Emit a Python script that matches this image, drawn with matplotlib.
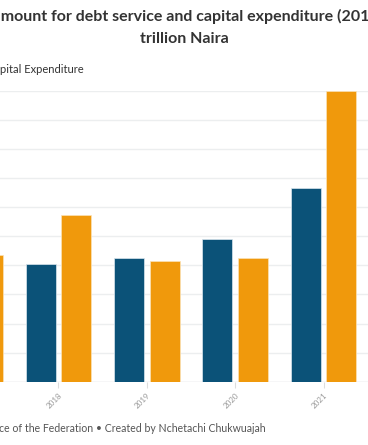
import matplotlib
matplotlib.use("Agg")
import matplotlib.pyplot as plt
import numpy as np

years = ["2017", "2018", "2019", "2020", "2021"]
debt_service = [1.95, 2.02, 2.13, 2.45, 3.32]
capital_exp = [2.17, 2.87, 2.08, 2.13, 4.99]
yticks = [0, 0.5, 1.0, 1.5, 2.0, 2.5, 3.0, 3.5, 4.0, 4.5, 5.0]

title1 = "Total amount for debt service and capital expenditure (2017-2021) in"
title2 = "trillion Naira"
legend_labels = ["Debt Service", "Capital Expenditure"]
footer = "Source: Budget Office of the Federation \u2022 Created by Nchetachi Chukwuajah"

DEBT_C = "#0b5278"
CAP_C = "#f0990c"

W, H = 368, 445
fig = plt.figure(figsize=(W / 100, H / 100), dpi=100)
FONT = ["Lato", "DejaVu Sans"]

sp = 88.4
x_left = (0 - 58.3) / sp + 1
x_right = (W - 58.3) / sp + 1
base_px, top_px = 381.7, 90.7
ax = fig.add_axes([0, (H - base_px) / H, 1, (base_px - top_px) / H])

x = np.arange(len(years))
bw = 30 / sp
off = 17.8 / sp
ax.bar(x - off, debt_service, width=bw, color=DEBT_C, edgecolor="#dbe6ee",
       linewidth=0.5, zorder=3)
ax.bar(x + off, capital_exp, width=bw, color=CAP_C, edgecolor="#fbe3b8",
       linewidth=0.5, zorder=3)

ax.set_yticks(yticks)
ax.yaxis.grid(True, color="#eceeef", linewidth=1.0, zorder=0)
ax.tick_params(axis="y", length=0, labelleft=False)
for s in ax.spines.values():
    s.set_visible(False)
ax.set_xticks(x)
ax.set_xticklabels(years, rotation=45, ha="right", rotation_mode="anchor",
                   fontsize=5.8, color="#999999", family=FONT)
ax.tick_params(axis="x", length=4, color="#dddddd", width=0.8, pad=3)
ax.axhline(0, color="#e4e6e8", linewidth=1.0, zorder=2)
ax.set_axisbelow(True)
ax.set_xlim(x_left, x_right)
ax.set_ylim(0, 5.0)

renderer = fig.canvas.get_renderer()

def prefix_width(txt, **kw):
    t = fig.text(0, 0, txt, **kw)
    w = t.get_window_extent(renderer).width
    t.remove()
    return w

# Title
tkw = dict(fontsize=11.5, fontweight="bold", color="#333333", family=FONT)
pw = prefix_width("Total a", **tkw)
fig.text((0.5 - pw) / W, 1 - 20.5 / H, title1, ha="left", va="baseline", **tkw)
fig.text(0.5, 1 - 43 / H, title2, ha="center", va="baseline", **tkw)

# Legend (right part visible)
fig.text(83.5 / W, 1 - 72.5 / H, legend_labels[1], ha="right", va="baseline",
         fontsize=8, color="#333333", family=FONT)

# Footer
fig.text(266 / W, 1 - 432.5 / H, footer, ha="right", va="baseline",
         fontsize=7.6, color="#555555", family=FONT)

fig.savefig("out.png", dpi=100)
